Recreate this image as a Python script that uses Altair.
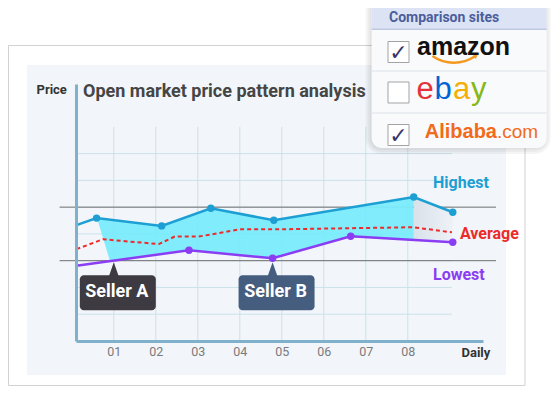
import altair as alt
import pandas as pd

# ---------------- data ----------------
high_day   = [0.11, 0.59, 2.14, 3.31, 4.81, 8.14, 9.07]
high_price = [43.3, 45.9, 43.0, 49.6, 45.1, 53.8, 48.1]
high_dot   = [False, True, True, True, True, True, True]

low_day    = [0.11, 2.79, 4.78, 6.64, 9.07]
low_price  = [28.1, 33.9, 30.9, 39.1, 36.9]
low_dot    = [False, True, True, True, True]

avg_day    = [0.11, 0.74, 2.07, 2.45, 3.02, 4.00, 4.88, 8.12, 9.05]
avg_price  = [34.3, 38.0, 36.2, 39.0, 39.0, 41.7, 41.7, 42.5, 40.6]

band_day   = [0.60, 0.91, 2.14, 2.79, 3.31, 4.79, 6.64, 8.14]
band_top   = [45.9, 45.5, 43.0, 46.6, 49.6, 45.0, 49.9, 53.8]
band_bot   = [45.9, 29.8, 32.5, 33.9, 33.1, 30.9, 39.1, 37.7]

shade_day  = [8.14, 9.07]
shade_top  = [53.8, 48.1]
shade_bot  = [37.7, 36.9]

tick_days   = [1, 2, 3, 4, 5, 6, 7, 8]
tick_labels = ["01", "02", "03", "04", "05", "06", "07", "08"]
grid_prices = [10, 20, 30, 40, 50, 60, 70]
ref_prices  = [30, 50]

series_names  = ["Highest", "Average", "Lowest"]
series_colors = ["#1d9fd3", "#ec2b2b", "#8a3df2"]
series_lab_day   = [8.6, 9.24, 8.6]
series_lab_price = [59.1, 40.0, 24.6]

seller_names  = ["Seller A", "Seller B"]
seller_day    = [1.0, 4.78]
seller_price  = [29.4, 29.4]
seller_colors = ["#3e3a42", "#455e80"]

sites         = ["amazon", "ebay", "Alibaba.com"]
site_checked  = [True, False, True]

# ---------------- helpers ----------------
OX, OY = 76, 84           # page position of the plot origin
ONE = alt.Data(values=[{"k": 0}])
XS = alt.Scale(domain=[0.1, 9.79])
YS = alt.Scale(domain=[0, 96])
FONT = "Roboto"
AXC = "#80b1cc"

label_expr = "[" + ",".join("'%s'" % t for t in tick_labels) + "][datum.value - 1]"

XA = alt.Axis(values=tick_days, labelExpr=label_expr, ticks=False, grid=False,
              domainColor=AXC, domainWidth=3, labelColor="#7a7a7a", labelFont=FONT,
              labelFontSize=12.5, labelPadding=4, title="Daily", titleX=385, titleY=11,
              titleAlign="left", titleBaseline="middle", titleFont=FONT,
              titleFontSize=13, titleFontWeight="bold", titleColor="#333333", zindex=1)
YA = alt.Axis(labels=False, ticks=False, grid=False, domainColor=AXC, domainWidth=3,
              title="Price", titleAngle=0, titleX=-40, titleY=5, titleAlign="left",
              titleBaseline="middle", titleFont=FONT, titleFontSize=13,
              titleFontWeight="bold", titleColor="#333333", zindex=1)


def box(x1, y1, x2, y2, **mk):
    return alt.Chart(ONE).mark_rect(**mk).encode(
        x=alt.value(x1 - OX), x2=alt.value(x2 - OX),
        y=alt.value(y1 - OY), y2=alt.value(y2 - OY))


def label(txt, x, y, **mk):
    return alt.Chart(ONE).mark_text(text=txt, **mk).encode(
        x=alt.value(x - OX), y=alt.value(y - OY))


def X(field):
    return alt.X(field, type="quantitative", scale=XS, axis=XA)


def Y(field):
    return alt.Y(field, type="quantitative", scale=YS, axis=YA)


high = pd.DataFrame({"day": high_day, "price": high_price, "dot": high_dot})
low = pd.DataFrame({"day": low_day, "price": low_price, "dot": low_dot})
avg = pd.DataFrame({"day": avg_day, "price": avg_price})
band = pd.DataFrame({"day": band_day, "top": band_top, "bot": band_bot})
shade = pd.DataFrame({"day": shade_day, "top": shade_top, "bot": shade_bot})
ticks = pd.DataFrame({"day": tick_days})
grid = pd.DataFrame({"price": grid_prices})
refs = pd.DataFrame({"price": ref_prices})
slabs = pd.DataFrame({"name": series_names, "color": series_colors,
                      "day": series_lab_day, "price": series_lab_price})
sellers = pd.DataFrame({"name": seller_names, "day": seller_day,
                        "price": seller_price, "color": seller_colors})

# ---------------- decoration: frame and panel ----------------
frame = box(8.5, 45.5, 525, 385.5, fill="white", stroke="#d2d2d2", strokeWidth=1)
panel = box(27, 65, 506, 375, fill="#f2f6fa")

# ---------------- grid (through the scales) ----------------
vgrid = alt.Chart(ticks).mark_rule(color="#cbe1eb", strokeWidth=1).encode(
    x=X("day"), y=Y("y0"), y2="y1:Q"
).transform_calculate(y0="0", y1="80")

hgrid = alt.Chart(grid).mark_rule(color="#cbe1eb", strokeWidth=1).encode(
    y=Y("price"), x=X("x0"), x2="x1:Q"
).transform_calculate(x0="0.1", x1="9.05")

refl = alt.Chart(refs).mark_rule(color="#6e6e6e", strokeWidth=1).encode(
    y=Y("price"), x=X("x0"), x2="x1:Q"
).transform_calculate(x0="-0.29", x1="10.1")

# ---------------- series ----------------
shade_area = alt.Chart(shade).mark_area(
    color=alt.Gradient(gradient="linear", x1=0, x2=1, y1=0, y2=0,
                       stops=[alt.GradientStop(color="#d9e1ea", offset=0),
                              alt.GradientStop(color="#eef2f7", offset=1)])
).encode(x=X("day"), y=Y("top"), y2="bot:Q")

band_area = alt.Chart(band).mark_area(color="#79ebfc", opacity=0.95).encode(
    x=X("day"), y=Y("top"), y2="bot:Q")

avg_line = alt.Chart(avg).mark_line(color="#ec2b2b", strokeWidth=2, strokeDash=[4, 3]).encode(
    x=X("day"), y=Y("price"))

high_line = alt.Chart(high).mark_line(color="#1d9fd3", strokeWidth=2.5).encode(
    x=X("day"), y=Y("price"))
high_pts = alt.Chart(high).mark_circle(color="#1d9fd3", size=55, opacity=1).encode(
    x=X("day"), y=Y("price")).transform_filter("datum.dot")

low_line = alt.Chart(low).mark_line(color="#8a3df2", strokeWidth=2.5).encode(
    x=X("day"), y=Y("price"))
low_pts = alt.Chart(low).mark_circle(color="#8a3df2", size=55, opacity=1).encode(
    x=X("day"), y=Y("price")).transform_filter("datum.dot")

series_text = alt.Chart(slabs).mark_text(
    align="left", baseline="middle", font=FONT, fontSize=16, fontWeight="bold"
).encode(x=X("day"), y=Y("price"), text="name:N", color=alt.Color("color:N", scale=None))

# ---------------- seller callouts (anchored on the data) ----------------
seller_box = alt.Chart(sellers).mark_rect(
    xOffset=-34, x2Offset=42, yOffset=13, y2Offset=48, cornerRadius=4
).encode(x=X("day"), x2="day:Q", y=Y("price"), y2="price:Q",
         color=alt.Color("color:N", scale=None))
seller_tip = alt.Chart(sellers).mark_point(
    shape="M0,-1L0.7,1L-0.7,1Z", size=196, filled=True, opacity=1, yOffset=7
).encode(x=X("day"), y=Y("price"), color=alt.Color("color:N", scale=None))
seller_text = alt.Chart(sellers).mark_text(
    font=FONT, fontSize=18, fontWeight="bold", color="white", dx=3, dy=30,
    baseline="middle"
).encode(x=X("day"), y=Y("price"), text="name:N")

# ---------------- title ----------------
title = label("Open market price pattern analysis", 83, 92, align="left",
              baseline="middle", font=FONT, fontSize=18, fontWeight="bold",
              color="#454545")

# ---------------- comparison-sites panel ----------------
pop = []
for i, op in enumerate([0.035, 0.035, 0.04]):
    g = 2 * (i + 1)
    pop.append(box(371.7 - g, -10, 546.7 + g - 2, 148 + g, fill="black",
                   opacity=op, cornerRadius=10 + g))
pop.append(box(371.7, -10, 546.7, 148, fill="#f9fafc", cornerRadius=10))
pop.append(box(371.7, -10, 546.7, 29, fill="#dce3f4", cornerRadius=0))
pop.append(box(371.7, 28.5, 546.7, 30, fill="#bfc9e3"))
pop.append(box(371.7, 70.5, 546.7, 71.5, fill="#dde1e8"))
pop.append(box(371.7, 112.5, 546.7, 113.5, fill="#dde1e8"))
pop.append(label("Comparison sites", 389, 18, align="left", baseline="middle",
                 font=FONT, fontSize=14, fontWeight="bold", color="#4b5e9c"))
row_y = [52, 92.5, 135]
for yc, chk in zip(row_y, site_checked):
    pop.append(box(388, yc - 10.5, 409, yc + 10.5, fill="white", stroke="#a3a3a3",
                   strokeWidth=1))
    if chk:
        pop.append(label("\u2713", 398.5, yc + 1, align="center", baseline="middle",
                         font="DejaVu Sans", fontSize=22, fontWeight="bold",
                         color="#35366b"))
# amazon
pop.append(label(sites[0], 417, 55, align="left", baseline="alphabetic",
                 font="Liberation Sans", fontSize=25, fontWeight="bold", color="#111111"))
pop.append(alt.Chart(ONE).mark_arc(radius=39, radius2=36.5, theta=2.55, theta2=3.75,
                                   color="#f39a1e").encode(
    x=alt.value(454 - OX), y=alt.value(25 - OY)))
pop.append(alt.Chart(ONE).mark_point(shape="triangle-up", size=22, filled=True,
                                     opacity=1, angle=50, color="#f39a1e").encode(
    x=alt.value(476 - OX), y=alt.value(56 - OY)))
# ebay
for ch, xx, col in zip("ebay", [416.5, 434.5, 453, 471],
                       ["#e53238", "#0064d2", "#f5af02", "#86b817"]):
    pop.append(label(ch, xx, 99, align="left", baseline="alphabetic",
                     font="Liberation Sans", fontSize=31, color=col))
# Alibaba.com
pop.append(label("Alibaba", 497, 138, align="right", baseline="alphabetic",
                 font="Liberation Sans", fontSize=20, fontWeight="bold", color="#f26a1b"))
pop.append(label(".com", 497, 138, align="left", baseline="alphabetic",
                 font="Liberation Sans", fontSize=19, color="#f26a1b"))

chart = alt.layer(
    frame, panel, vgrid, hgrid, refl, shade_area, band_area, avg_line,
    high_line, low_line, high_pts, low_pts, series_text, title,
    seller_box, seller_tip, seller_text, *pop
).properties(
    width=407, height=257,
    padding={"left": 68, "top": 76, "right": 69, "bottom": 45},
    autosize=alt.AutoSizeParams(type="none"),
    background="white",
).configure_view(stroke=None)

chart.save("out.html", embed_options={"renderer": "svg", "actions": False})
